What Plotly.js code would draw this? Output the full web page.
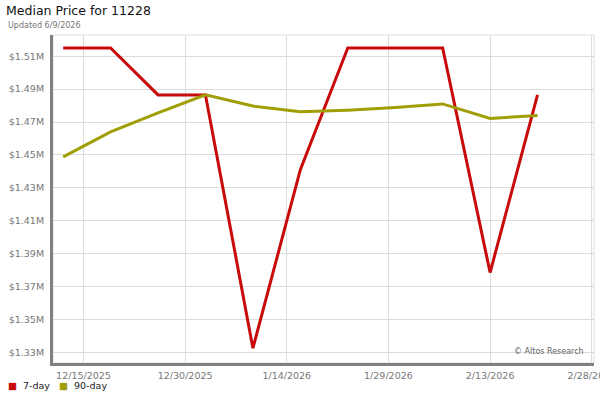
<!DOCTYPE html>
<html>
<head>
<meta charset="utf-8">
<script src="https://cdn.plot.ly/plotly-3.0.1.min.js"></script>
<style>
  html, body { margin: 0; padding: 0; background: #fff; }
  #chart { width: 600px; height: 400px; }
</style>
</head>
<body>
<div id="chart"></div>
<script>
// Weekly sample dates
const dates = [
    '2025-12-12', '2025-12-19', '2025-12-26', '2026-01-02', '2026-01-09', '2026-01-16',
    '2026-01-23', '2026-01-30', '2026-02-06', '2026-02-13', '2026-02-20'
];

// Median price, rolling 7-day and 90-day
const sevenDay = [1515000, 1515000, 1486500, 1486500, 1332500, 1441000,
                  1515000, 1515000, 1515000, 1378500, 1486500];
const ninetyDay = [1448800, 1464000, 1475500, 1486500, 1479700, 1476200,
                   1477200, 1478800, 1481000, 1472200, 1474000];

const yTicks = [1330000, 1350000, 1370000, 1390000, 1410000, 1430000, 1450000, 1470000, 1490000, 1510000];
const yTickText = yTicks.map(v => '$' + (v / 1e6).toFixed(2) + 'M');

const RED = '#c80a0a';
const OLIVE = '#a19e05';
const FONT = 'DejaVu Sans, Verdana, sans-serif';

const traces = [
    {
        type: 'scatter', mode: 'lines', name: '7-day',
        x: dates, y: sevenDay,
        line: { color: RED, width: 3 },
        showlegend: false
    },
    {
        type: 'scatter', mode: 'lines', name: '90-day',
        x: dates, y: ninetyDay,
        line: { color: OLIVE, width: 3 },
        showlegend: false
    }
];

// legend drawn as text so the swatch sits close to its label
function legendItem(px, color, label) {
    return {
        xref: 'paper', yref: 'paper', x: (px - 53) / 541, y: -0.07,
        xanchor: 'left', yanchor: 'middle', showarrow: false,
        text: '<span style="color:' + color + '">■</span>  ' + label,
        font: { family: FONT, size: 9.5, color: '#222' }
    };
}

const layout = {
    width: 600, height: 400,
    margin: { t: 35, b: 37, l: 53, r: 6 },
    paper_bgcolor: '#fff', plot_bgcolor: '#fff',
    font: { family: FONT, color: '#777' },
    showlegend: false,
    title: {
        text: 'Median Price for 11228',
        x: 6 / 600, xanchor: 'left', xref: 'container',
        y: 0.985, yanchor: 'top', yref: 'container',
        font: { family: FONT, size: 12.5, color: '#111' },
        pad: { l: 0 }
    },
    xaxis: {
        type: 'date',
        range: ['2025-12-10 12:00', '2026-02-28 08:00'],
        tick0: '2025-12-15', dtick: 15 * 86400000,
        tickformat: '%-m/%-d/%Y',
        ticklabeloverflow: 'allow',
        tickfont: { family: FONT, size: 9.5, color: '#777' },
        ticks: 'outside', ticklen: 2, tickcolor: 'rgba(0,0,0,0)',
        showgrid: true, gridcolor: '#dcdcdc', gridwidth: 1,
        showline: true, linecolor: '#808080', linewidth: 3,
        zeroline: false, fixedrange: true
    },
    yaxis: {
        range: [1323500, 1522900],
        tickvals: yTicks, ticktext: yTickText,
        tickfont: { family: FONT, size: 9.5, color: '#777' },
        ticks: 'outside', ticklen: 4, tickcolor: 'rgba(0,0,0,0)',
        showgrid: true, gridcolor: '#dcdcdc', gridwidth: 1,
        showline: true, linecolor: '#808080', linewidth: 3,
        zeroline: false, fixedrange: true
    },
    shapes: [{
        type: 'rect', xref: 'paper', yref: 'paper', x0: 0, x1: 1, y0: 0, y1: 1,
        line: { color: '#dcdcdc', width: 1 }, layer: 'below'
    }],
    annotations: [
        {
            xref: 'paper', yref: 'paper', x: 0, y: 1, xshift: -47, yshift: 10,
            xanchor: 'left', yanchor: 'middle', showarrow: false,
            text: 'Updated 6/9/2026',
            font: { family: FONT, size: 8, color: '#777' }
        },
        {
            xref: 'paper', yref: 'paper', x: 0.985, y: 0.015,
            xanchor: 'right', yanchor: 'bottom', showarrow: false,
            text: '© Altos Research',
            font: { family: FONT, size: 8, color: '#666' }
        },
        legendItem(6, RED, '7-day'),
        legendItem(57, OLIVE, '90-day')
    ]
};

Plotly.newPlot('chart', traces, layout, { displayModeBar: false, staticPlot: true });
</script>
</body>
</html>
